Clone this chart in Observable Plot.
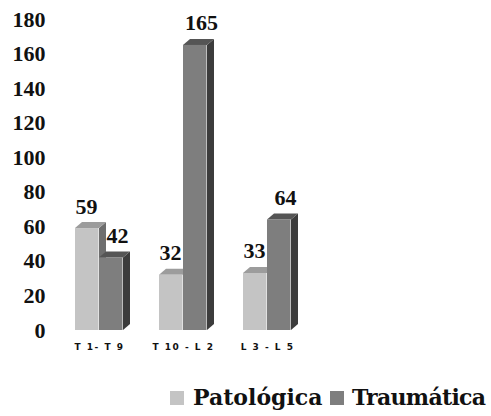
<!DOCTYPE html>
<html>
<head>
<meta charset="utf-8">
<script src="https://cdn.jsdelivr.net/npm/d3@7"></script>
<script src="https://cdn.jsdelivr.net/npm/@observablehq/plot@0.6"></script>
<style>
  body { margin: 0; background: #fff; }
  #chart { width: 491px; position: relative; }
  #chart svg { display: block; }
  #chart g[aria-label^="y-axis"] text { font: bold 22px "Liberation Serif", serif; fill: #111; }
  #chart g[aria-label^="x-axis"] text { font: bold 9px "DejaVu Sans", sans-serif; letter-spacing: 1.5px; fill: #111; }
  #legend { position: relative; width: 491px; height: 46px; overflow: hidden; }
  #legend .sw { position: absolute; width: 14px; height: 14px; top: 21px; }
  #legend .lb { position: absolute; top: 16px; font: bold 22px/22px "DejaVu Serif", serif; color: #111; white-space: nowrap; }
</style>
</head>
<body>
<div id="chart"></div>
<script>
// ---- data ----
const groups = ["T 1- T 9", "T 10 - L 2", "L 3 - L 5"];
const seriesNames = ["Patológica", "Traumática"];
const patologica = [59, 32, 33];
const traumatica = [42, 165, 64];
const yTicks = [0, 20, 40, 60, 80, 100, 120, 140, 160, 180];

// ---- styles ----
const colors = {
  "Patológica": {front: "#c4c4c4", top: "#9c9c9c", side: "#6e6e6e"},
  "Traumática": {front: "#7e7e7e", top: "#555555", side: "#3c3c3c"}
};
const barPos = {"Patológica": [18, 42], "Traumática": [42, 66]}; // px within group band
const depthX = 7, depthY = 6;

const patData = groups.map((g, i) => ({group: g, series: seriesNames[0], value: patologica[i]}));
const trauData = groups.map((g, i) => ({group: g, series: seriesNames[1], value: traumatica[i]}));

function bar(data, name) {
  return Plot.barY(data, {
    x: "group", y: "value", fill: colors[name].front,
    insetLeft: barPos[name][0],
    insetRight: 84.5 - barPos[name][1]
  });
}

function faces(data, name) {
  return (index, scales) => {
    const xs = scales.x, ys = scales.y;
    const g = d3.create("svg:g");
    for (const d of data) {
      const x0 = xs(d.group);
      const x1 = x0 + barPos[name][0], x2 = x0 + barPos[name][1];
      const yt = ys(d.value), yb = ys(0);
      g.append("polygon")
        .attr("points", [[x2, yt], [x2 + depthX, yt - depthY], [x2 + depthX, yb - depthY], [x2, yb]].join(" "))
        .attr("fill", colors[name].side);
      g.append("polygon")
        .attr("points", [[x1, yt], [x2, yt], [x2 + depthX, yt - depthY], [x1 + depthX, yt - depthY]].join(" "))
        .attr("fill", colors[name].top);
    }
    return g.node();
  };
}

function labels(data, dx) {
  return Plot.text(data, {
    x: "group", y: "value", text: d => String(d.value),
    dx, dy: -15, lineAnchor: "bottom",
    fontSize: 22, fontWeight: "bold", fontFamily: "Liberation Serif, serif", fill: "#111"
  });
}

const plot = Plot.plot({
  width: 491,
  height: 370,
  marginTop: 19,
  marginBottom: 40,
  marginLeft: 56,
  marginRight: 182,
  x: {domain: groups, padding: 0, tickSize: 0, tickPadding: 13, label: null},
  y: {domain: [0, 180], ticks: yTicks, tickSize: 0, tickPadding: 11, label: null, tickFormat: d => String(d)},
  marks: [
    faces(patData, "Patológica"),
    bar(patData, "Patológica"),
    faces(trauData, "Traumática"),
    bar(trauData, "Traumática"),
    labels(patData, -13),
    labels(trauData, 18)
  ]
});
document.getElementById("chart").appendChild(plot);

// ---- legend ----
const legend = d3.select("body").append("div").attr("id", "legend");
const legendPos = [{sw: 170, lb: 193, ls: 0}, {sw: 330, lb: 352, ls: -0.7}];
seriesNames.forEach((name, i) => {
  legend.append("div").attr("class", "sw").style("left", legendPos[i].sw + "px").style("background", colors[name].front);
  legend.append("div").attr("class", "lb").style("left", legendPos[i].lb + "px")
    .style("letter-spacing", legendPos[i].ls + "px").text(name);
});
</script>
</body>
</html>
